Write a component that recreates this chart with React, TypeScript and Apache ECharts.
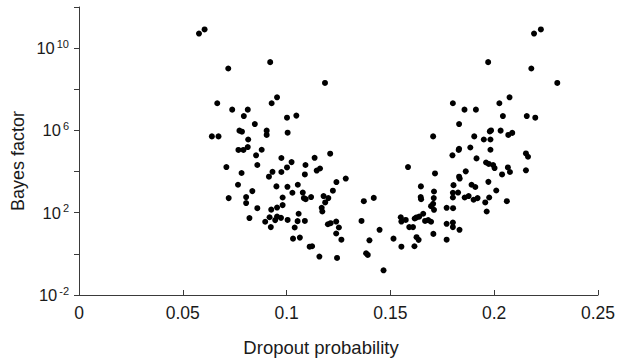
import React, { useEffect, useRef } from "react";
import * as echarts from "echarts";

// Dropout probability (x) and log10 of the Bayes factor (y)
const dropoutProbability = [
  0.0578, 0.0605, 0.0719, 0.0921, 0.0954, 0.0666, 0.0928, 0.0738, 0.0813, 0.0794,
  0.1002, 0.1047, 0.0847, 0.0773, 0.0785, 0.0904, 0.0904, 0.1005, 0.064, 0.0672,
  0.0815, 0.0768, 0.0792, 0.0813, 0.088, 0.0853, 0.0975, 0.1024, 0.1002, 0.071,
  0.0859, 0.1091, 0.0783, 0.0932, 0.0915, 0.0975, 0.1088, 0.0766, 0.0951, 0.1004,
  0.1054, 0.0835, 0.1028, 0.1078, 0.1083, 0.1092, 0.0721, 0.0805, 0.0805, 0.0981,
  0.0859, 0.0954, 0.0981, 0.0926, 0.0821, 0.0918, 0.0954, 0.0973, 0.0945, 0.0897,
  0.1005, 0.1058, 0.1053, 0.1088, 0.0924, 0.1039, 0.1031, 0.1064, 0.1185, 0.121,
  0.1135, 0.1161, 0.1145, 0.1285, 0.124, 0.1223, 0.1118, 0.1178, 0.1201, 0.1186,
  0.1169, 0.1172, 0.1199, 0.1212, 0.1239, 0.1252, 0.1239, 0.1264, 0.1111, 0.1123,
  0.1158, 0.1243, 0.1372, 0.142, 0.1361, 0.1448, 0.1399, 0.1383, 0.1391, 0.1467,
  0.1585, 0.155, 0.1574, 0.1553, 0.1591, 0.1609, 0.1515, 0.1553, 0.1616, 0.1626,
  0.1636, 0.1626, 0.1639, 0.1658, 0.1667, 0.1696, 0.1647, 0.1646, 0.1648, 0.1799,
  0.1829, 0.1885, 0.1982, 0.1915, 0.1961, 0.1974, 0.1995, 0.2002, 0.2038, 0.2066,
  0.2076, 0.2153, 0.2163, 0.1715, 0.1863, 0.1831, 0.1834, 0.171, 0.1804, 0.1891,
  0.1909, 0.1972, 0.201, 0.1801, 0.1826, 0.1801, 0.1858, 0.1877, 0.1901, 0.192,
  0.1976, 0.1957, 0.2061, 0.1709, 0.1706, 0.1696, 0.171, 0.1771, 0.1802, 0.1964,
  0.1771, 0.1801, 0.1801, 0.1833, 0.1707, 0.1771, 0.1617, 0.1971, 0.2179, 0.2304,
  0.2192, 0.2225, 0.1801, 0.1857, 0.1912, 0.2025, 0.2074, 0.2042, 0.2157, 0.2198,
  0.1831, 0.1706, 0.1904, 0.1979, 0.1985, 0.2031, 0.2068, 0.2087, 0.195, 0.1982,
  0.1831, 0.2153, 0.1682,
];

const log10BayesFactor = [
  10.71, 10.91, 9.01, 9.32, 7.61, 7.32, 7.32, 7.01, 7.01, 6.7,
  6.62, 6.72, 6.31, 5.99, 5.94, 5.99, 5.78, 5.89, 5.71, 5.71,
  5.56, 5.05, 5.05, 5.19, 5.06, 4.79, 4.66, 4.46, 4.2, 4.22,
  4.32, 4.32, 3.93, 3.99, 3.75, 3.98, 3.86, 3.36, 3.28, 3.26,
  3.36, 3.05, 2.97, 2.98, 2.71, 2.66, 2.71, 2.76, 2.47, 2.74,
  2.22, 2.25, 2.37, 2.15, 1.74, 1.78, 1.81, 1.75, 1.64, 1.56,
  1.65, 1.95, 1.59, 1.6, 1.3, 1.28, 0.74, 0.79, 8.31, 4.87,
  4.67, 4.15, 4.05, 3.66, 3.49, 3.07, 2.76, 2.81, 2.71, 2.5,
  2.24, 2.06, 1.44, 1.49, 1.57, 1.28, 0.99, 0.69, 0.35, 0.37,
  -0.13, -0.2, 2.56, 2.72, 1.6, 1.17, 0.66, 0.03, -0.05, -0.8,
  4.22, 1.78, 1.65, 1.57, 1.3, 1.3, 0.74, 0.35, 0.37, 0.81,
  0.68, 1.77, 1.81, 1.95, 1.6, 1.56, 3.28, 2.76, 2.66, 4.79,
  5.05, 5.17, 5.06, 4.64, 4.44, 4.37, 4.32, 4.17, 3.86, 4.2,
  3.98, 4.88, 4.72, 3.91, 4.01, 3.75, 3.66, 3.03, 3.34, 3.36,
  3.25, 3.5, 3.08, 2.97, 2.98, 2.74, 2.74, 2.81, 2.63, 2.71,
  2.74, 2.5, 2.56, 2.71, 2.43, 2.32, 2.14, 2.24, 2.22, 2.06,
  1.46, 1.52, 1.3, 1.17, 0.97, 0.69, 1.72, 9.32, 9.01, 8.31,
  10.71, 10.91, 7.32, 7.01, 7.01, 7.32, 7.61, 6.7, 6.7, 6.62,
  6.31, 5.71, 5.71, 5.95, 6.0, 5.99, 5.78, 5.88, 5.56, 5.56,
  5.11, 4.06, 1.64,
];

// Axis ranges / ticks
const xMin = 0;
const xMax = 0.25;
const xStep = 0.05;
const yExpMin = -2;
const yExpMax = 12;
const yExpStep = 2;
const yLabelExponents = [-2, 2, 6, 10];

const xTitle = "Dropout probability";
const yTitle = "Bayes factor";

const FONT = "'Liberation Sans', Arial, Helvetica, sans-serif";

export default function App() {
  const ref = useRef<HTMLDivElement>(null);

  useEffect(() => {
    document.body.style.margin = "0";
    if (!ref.current) return;
    const chart = echarts.init(ref.current, undefined, { renderer: "svg" });

    const points = dropoutProbability.map((x, i) => [x, log10BayesFactor[i]]);

    chart.setOption({
      animation: false,
      backgroundColor: "#ffffff",
      grid: { left: 79, right: 14, top: 7, bottom: 65, containLabel: false },
      xAxis: {
        type: "value",
        min: xMin,
        max: xMax,
        interval: xStep,
        axisLine: { show: true, onZero: false, lineStyle: { color: "#3a3a3a", width: 1 } },
        axisTick: { show: true, inside: true, length: 5, lineStyle: { color: "#3a3a3a" } },
        splitLine: { show: false },
        axisLabel: {
          color: "#1a1a1a",
          fontSize: 17.5,
          fontFamily: FONT,
          margin: 9,
          formatter: (v: number) => String(parseFloat(v.toFixed(2))),
        },
      },
      yAxis: {
        type: "value",
        min: yExpMin,
        max: yExpMax,
        interval: yExpStep,
        axisLine: { show: true, onZero: false, lineStyle: { color: "#3a3a3a", width: 1 } },
        axisTick: { show: true, inside: false, length: 5, lineStyle: { color: "#3a3a3a" } },
        splitLine: { show: false },
        axisLabel: {
          margin: 10,
          color: "#1a1a1a",
          fontFamily: FONT,
          formatter: (v: number) =>
            yLabelExponents.includes(Math.round(v)) ? `{b|10}{s|${Math.round(v)}}` : "",
          rich: {
            b: { fontSize: 16.5, fontFamily: FONT, color: "#1a1a1a", lineHeight: 20 },
            s: {
              fontSize: 11,
              fontFamily: FONT,
              color: "#1a1a1a",
              lineHeight: 12,
              verticalAlign: "top",
              padding: [0, 0, 0, 2],
            },
          },
        },
      },
      graphic: [
        {
          type: "text",
          x: 321,
          y: 347,
          style: {
            text: xTitle,
            fontSize: 18.5,
            fontFamily: FONT,
            fill: "#1a1a1a",
            align: "center",
            verticalAlign: "middle",
          },
        },
        {
          type: "text",
          x: 18,
          y: 161,
          rotation: Math.PI / 2,
          style: {
            text: yTitle,
            fontSize: 18,
            fontFamily: FONT,
            fill: "#1a1a1a",
            align: "center",
            verticalAlign: "middle",
          },
        },
      ],
      series: [
        {
          type: "scatter",
          data: points,
          symbol: "circle",
          symbolSize: 6,
          itemStyle: { color: "#000000", opacity: 1 },
          emphasis: { disabled: true },
        },
      ],
    });

    return () => chart.dispose();
  }, []);

  return <div ref={ref} style={{ width: 618, height: 360 }} />;
}
